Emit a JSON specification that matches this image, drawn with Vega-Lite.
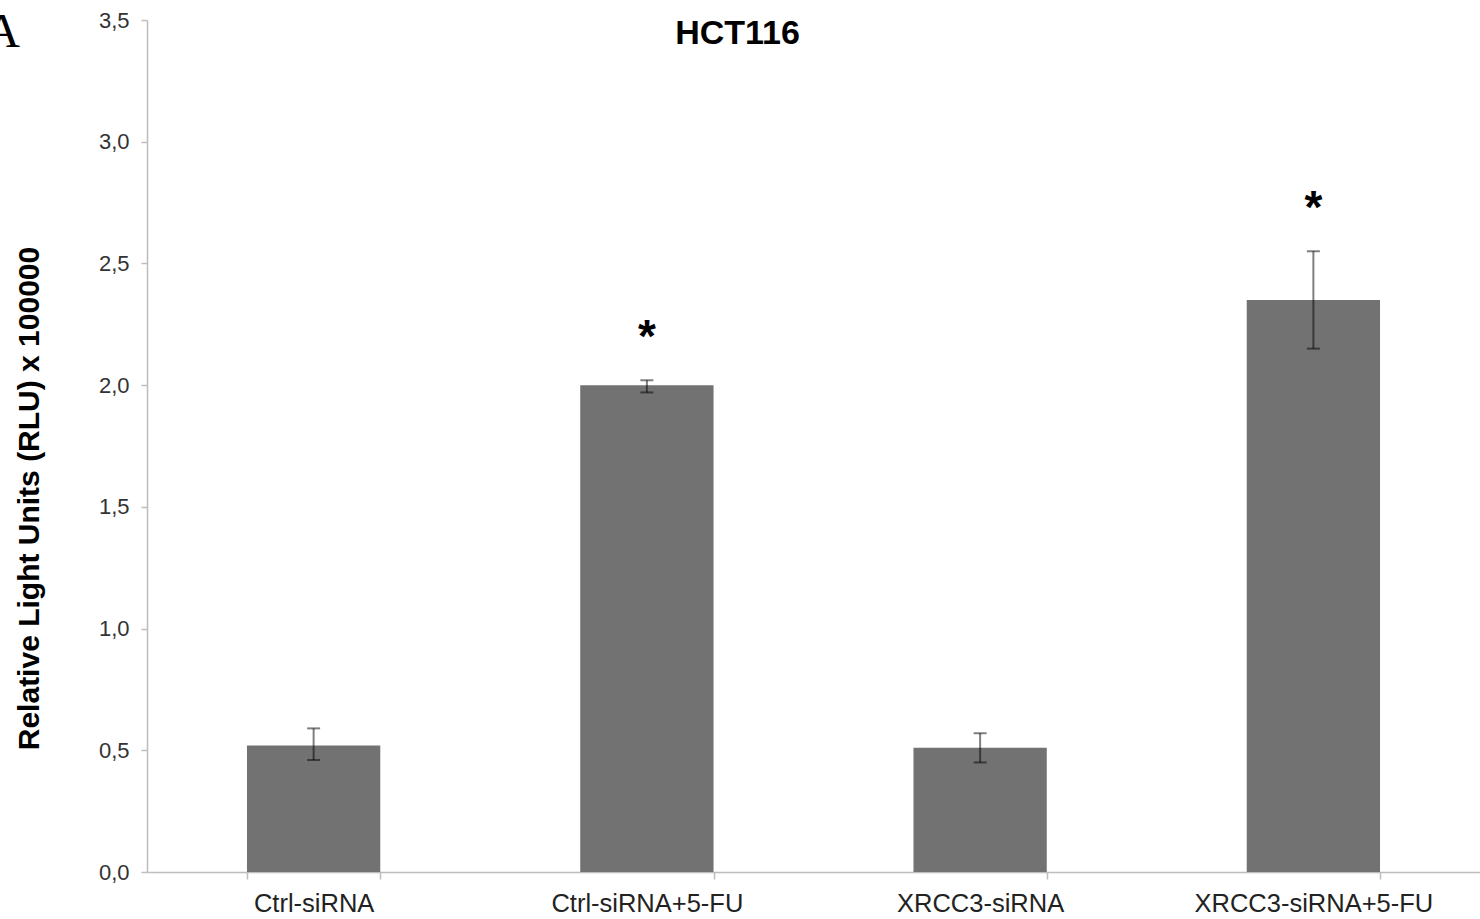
{
  "$schema": "https://vega.github.io/schema/vega-lite/v6.json",
  "autosize": {"type": "none"},
  "padding": {"left": 147, "top": 20, "right": 0, "bottom": 47},
  "width": 1333,
  "height": 852,
  "background": "white",
  "config": {
    "view": {"stroke": null},
    "font": "Liberation Sans"
  },
  "title": {
    "text": "HCT116",
    "fontSize": 34,
    "fontWeight": "bold",
    "font": "Liberation Sans",
    "color": "#000000",
    "anchor": "middle",
    "frame": "group",
    "dx": -76,
    "offset": -69,
    "baseline": "alphabetic"
  },
  "data": {
    "values": [
      {"group": "Ctrl-siRNA", "value": 0.52, "lo": 0.46, "hi": 0.59, "sig": ""},
      {"group": "Ctrl-siRNA+5-FU", "value": 2.0, "lo": 1.97, "hi": 2.02, "sig": "*"},
      {"group": "XRCC3-siRNA", "value": 0.51, "lo": 0.45, "hi": 0.57, "sig": ""},
      {"group": "XRCC3-siRNA+5-FU", "value": 2.35, "lo": 2.15, "hi": 2.55, "sig": "*"}
    ]
  },
  "encoding": {
    "x": {
      "field": "group",
      "type": "nominal",
      "sort": null,
      "scale": {"paddingInner": 0.6, "paddingOuter": 0.3},
      "axis": {
        "title": null,
        "labelAngle": 0,
        "labelFontSize": 25.5,
        "labelLimit": 0,
        "labelColor": "#222222",
        "labelPadding": 12,
        "tickBand": "extent",
        "tickSize": 7,
        "tickColor": "#bdbdbd",
        "domainColor": "#bdbdbd",
        "domainWidth": 1.5,
        "tickWidth": 1.5
      }
    }
  },
  "layer": [
    {
      "mark": {"type": "bar", "color": "#727272"},
      "encoding": {
        "y": {
          "field": "value",
          "type": "quantitative",
          "scale": {"domain": [0, 3.5], "nice": false},
          "axis": {
            "title": "Relative Light Units (RLU) x 100000",
            "titleFontSize": 30,
            "titleFontWeight": "bold",
            "titleColor": "#000000",
            "titlePadding": 54,
            "titleY": 478,
            "values": [0, 0.5, 1, 1.5, 2, 2.5, 3, 3.5],
            "labelExpr": "replace(format(datum.value, '.1f'), '.', ',')",
            "labelFontSize": 22,
            "labelColor": "#333333",
            "labelPadding": 12,
            "tickSize": 6,
            "tickColor": "#bdbdbd",
            "domainColor": "#bdbdbd",
            "domainWidth": 1.5,
            "tickWidth": 1.5,
            "grid": false
          }
        }
      }
    },
    {
      "mark": {"type": "rule", "color": "#000000", "opacity": 0.5, "strokeWidth": 2},
      "encoding": {
        "y": {"field": "lo", "type": "quantitative"},
        "y2": {"field": "hi"}
      }
    },
    {
      "mark": {"type": "tick", "color": "#000000", "opacity": 0.5, "thickness": 2, "size": 13, "orient": "horizontal"},
      "encoding": {
        "y": {"field": "lo", "type": "quantitative"}
      }
    },
    {
      "mark": {"type": "tick", "color": "#000000", "opacity": 0.5, "thickness": 2, "size": 13, "orient": "horizontal"},
      "encoding": {
        "y": {"field": "hi", "type": "quantitative"}
      }
    },
    {
      "mark": {"type": "text", "fontSize": 46, "fontWeight": "bold", "font": "Liberation Sans", "color": "#000000", "baseline": "alphabetic", "dy": -28},
      "encoding": {
        "y": {"field": "hi", "type": "quantitative"},
        "text": {"field": "sig"}
      }
    },
    {
      "data": {"values": [{"label": "A", "group": "Ctrl-siRNA", "top": 3.5}]},
      "mark": {"type": "text", "font": "Liberation Serif", "fontSize": 48, "color": "#000000", "align": "right", "baseline": "alphabetic", "dx": -227, "dy": 27},
      "encoding": {
        "x": {"field": "group", "type": "nominal", "bandPosition": 0},
        "y": {"field": "top", "type": "quantitative"},
        "text": {"field": "label"}
      }
    }
  ]
}
